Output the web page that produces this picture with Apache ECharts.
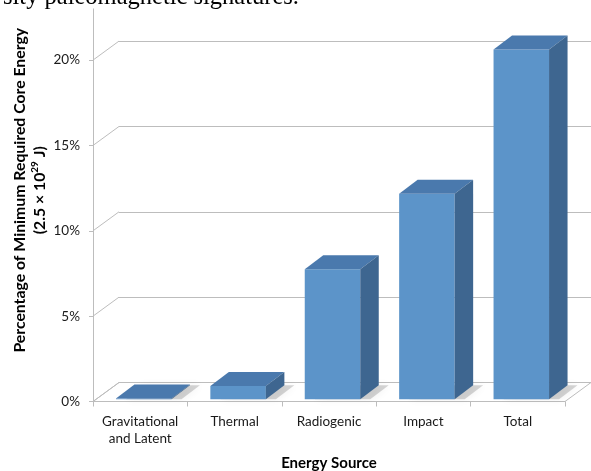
<!DOCTYPE html>
<html>
<head>
<meta charset="utf-8">
<script src="https://cdn.jsdelivr.net/npm/echarts@6/dist/echarts.min.js"></script>
<style>
  html, body { margin: 0; padding: 0; background: #ffffff; }
  #chart { width: 591px; height: 471px; }
</style>
</head>
<body>
<div id="chart"></div>
<script>
// Share of the minimum required core energy supplied by each source (%)
const categories = ['Gravitational\nand Latent', 'Thermal', 'Radiogenic', 'Impact', 'Total'];
const shares = [0.05, 0.78, 7.62, 12.04, 20.49];
const yTicks = [0, 5, 10, 15, 20];
const caption = 'sity paleomagnetic signatures.';

// 3-D look: offsets (px) of the back wall and of the column faces
const WALL = [26, -19];
const BAR_FRONT = [3.5, -2.2];
const BAR_DEPTH = [18.5, -14];
const BAR_RATIO = 0.588;
const COLORS = { front: '#5c94c9', top: '#4a79ad', side: '#3e6690' };
const LINE = '#bdbdbd';
const FONT = 'Lato';

const chart = echarts.init(document.getElementById('chart'));

// Floor of the plot box
function renderFloor(params, api) {
  const cs = params.coordSys;
  const y0 = api.coord([0, 0])[1];
  const xl = cs.x, xr = cs.x + cs.width;
  return {
    type: 'polygon',
    shape: { points: [[xl, y0], [xr, y0], [xr + WALL[0], y0 + WALL[1]], [xl + WALL[0], y0 + WALL[1]]] },
    style: { fill: '#ffffff', stroke: LINE, lineWidth: 1 }
  };
}

// Diagonal links from the value axis ticks to the back-wall gridlines
function renderLink(params, api) {
  const cs = params.coordSys;
  const y = api.coord([0, api.value(1)])[1];
  return {
    type: 'line',
    shape: { x1: cs.x, y1: y, x2: cs.x + WALL[0], y2: y + WALL[1] },
    style: { stroke: LINE, lineWidth: 1 }
  };
}

// Column drawn as front, top and side faces plus a soft floor shadow
function renderColumn(params, api) {
  const i = api.value(0);
  const v = api.value(1);
  const top = api.coord([i, v]);
  const base = api.coord([i, 0]);
  const w = api.size([1, 0])[0] * BAR_RATIO;
  const x0 = top[0] - w / 2 + BAR_FRONT[0];
  const x1 = x0 + w;
  const yt = top[1] + BAR_FRONT[1];
  const yb = base[1] + BAR_FRONT[1];
  const dx = BAR_DEPTH[0], dy = BAR_DEPTH[1];
  return {
    type: 'group',
    children: [
      {
        type: 'polygon',
        shape: { points: [[x0 + 10, yb], [x1 + 10, yb], [x1 + dx + 10, yb + dy], [x0 + dx + 10, yb + dy]] },
        style: { fill: 'rgba(0,0,0,0.16)', shadowBlur: 9, shadowColor: 'rgba(0,0,0,0.4)' }
      },
      {
        type: 'polygon',
        shape: { points: [[x0, yb], [x1, yb], [x1, yt], [x0, yt]] },
        style: { fill: COLORS.front }
      },
      {
        type: 'polygon',
        shape: { points: [[x0, yt], [x1, yt], [x1 + dx, yt + dy], [x0 + dx, yt + dy]] },
        style: { fill: COLORS.top }
      },
      {
        type: 'polygon',
        shape: { points: [[x1, yt], [x1 + dx, yt + dy], [x1 + dx, yb + dy], [x1, yb]] },
        style: { fill: COLORS.side }
      }
    ]
  };
}

const option = {
  backgroundColor: '#ffffff',
  animation: false,
  graphic: [{
    type: 'text',
    left: 3,
    top: -15,
    style: { text: caption, font: '24.5px "Liberation Serif"', fill: '#000000' }
  }],
  grid: [
    { left: 93, right: 26, top: 8.9, bottom: 69.5, containLabel: false, outerBoundsMode: 'none' },
    { left: 119, right: 0, top: -10.1, bottom: 88.5, containLabel: false, outerBoundsMode: 'none' }
  ],
  xAxis: [
    {
      type: 'category',
      gridIndex: 0,
      data: categories,
      axisLine: { show: true, lineStyle: { color: LINE, width: 1 } },
      axisTick: { show: true, length: 5, lineStyle: { color: LINE } },
      axisLabel: { color: '#1a1a1a', fontFamily: FONT, fontSize: 13.5, lineHeight: 17, margin: 12, interval: 0 },
      name: 'Energy Source',
      nameLocation: 'middle',
      nameGap: 54,
      nameMoveOverlap: false,
      nameTextStyle: { color: '#000000', fontFamily: FONT, fontWeight: 'bold', fontSize: 15 }
    },
    { type: 'category', gridIndex: 1, data: categories, show: false }
  ],
  yAxis: [
    {
      type: 'value',
      gridIndex: 0,
      min: 0,
      max: 23,
      interval: 5,
      axisLine: { show: true, lineStyle: { color: LINE, width: 1 } },
      axisTick: { show: true, length: 4, customValues: yTicks, lineStyle: { color: LINE } },
      splitLine: { show: false },
      axisLabel: {
        customValues: yTicks,
        formatter: '{value}%',
        color: '#1a1a1a', fontFamily: FONT, fontSize: 13.5, margin: 13
      },
      name: '{t|Percentage of Minimum Required Core Energy}\n{t|(2.5 × 10}{s|29}{t| J)}',
      nameLocation: 'middle',
      nameRotate: 90,
      nameGap: 43,
      nameMoveOverlap: false,
      nameTextStyle: {
        align: 'center',
        padding: [0, 0, 0, 30],
        rich: {
          t: { color: '#000000', fontFamily: FONT, fontWeight: 'bold', fontSize: 15.8, lineHeight: 20 },
          s: { color: '#000000', fontFamily: FONT, fontWeight: 'bold', fontSize: 10, lineHeight: 20, verticalAlign: 'top' }
        }
      }
    },
    {
      type: 'value',
      gridIndex: 1,
      min: 0,
      max: 23,
      interval: 5,
      axisLine: { show: false },
      axisTick: { show: false },
      axisLabel: { show: false },
      splitLine: { show: true, lineStyle: { color: LINE, width: 1 } }
    }
  ],
  series: [
    {
      type: 'custom',
      name: 'floor',
      xAxisIndex: 0, yAxisIndex: 0,
      z: 1,
      silent: true,
      renderItem: renderFloor,
      data: [[0, 0]]
    },
    {
      type: 'custom',
      name: 'links',
      xAxisIndex: 0, yAxisIndex: 0,
      z: 1,
      silent: true,
      renderItem: renderLink,
      data: yTicks.map(v => [0, v])
    },
    {
      type: 'custom',
      name: 'share',
      xAxisIndex: 0, yAxisIndex: 0,
      z: 3,
      renderItem: renderColumn,
      data: shares.map((v, i) => [i, v])
    }
  ]
};

chart.setOption(option);
</script>
</body>
</html>
